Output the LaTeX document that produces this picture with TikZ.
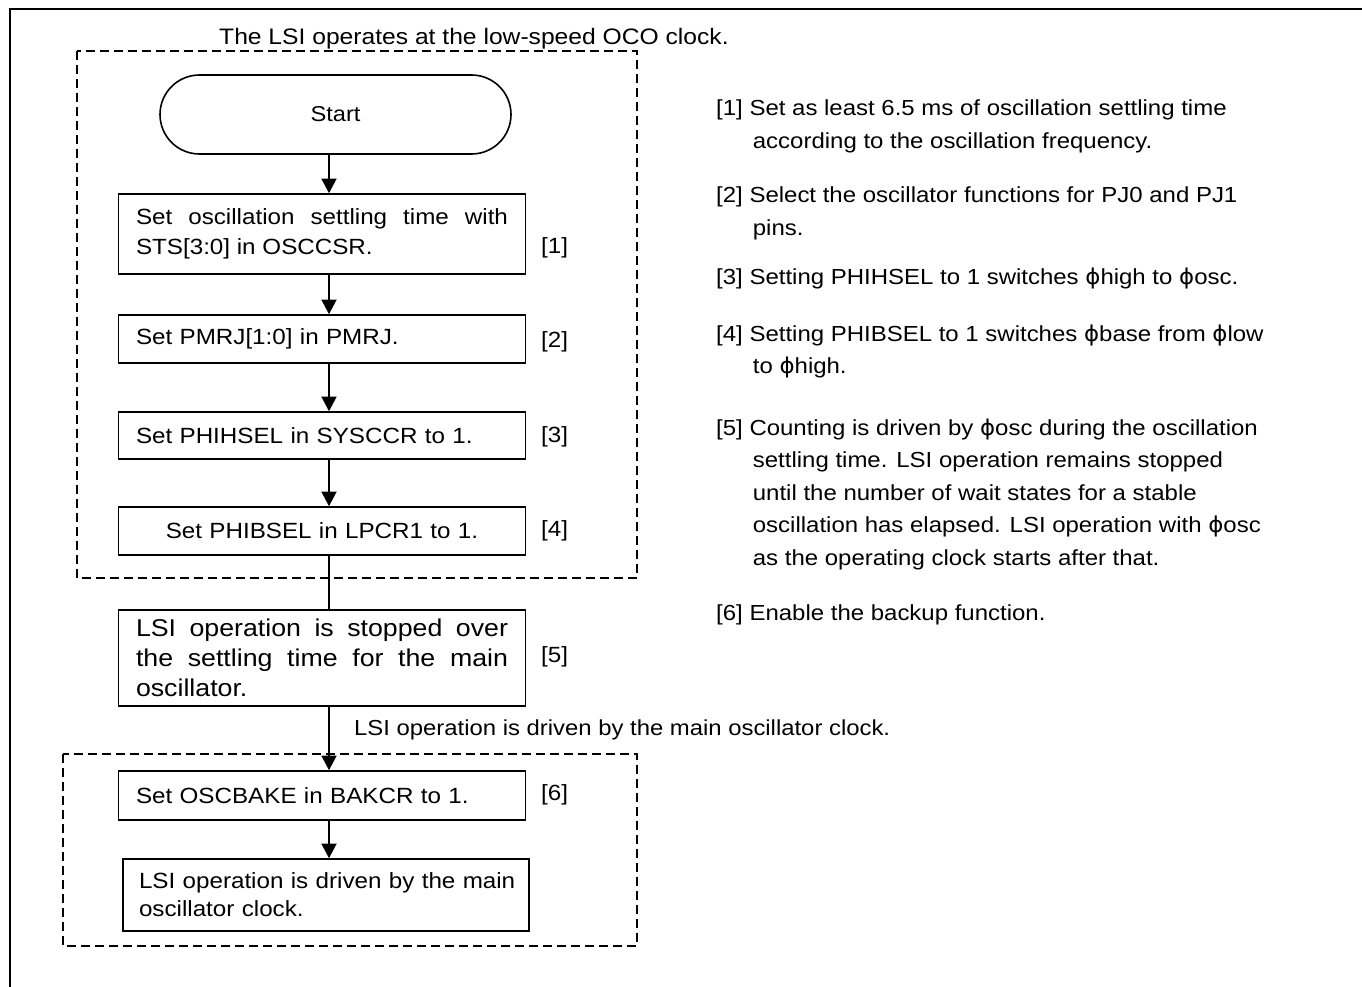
\documentclass[tikz,border=0pt]{standalone}
\usepackage{fontspec}
\setmainfont{Liberation Sans}[FakeStretch=1.1]
\newfontfamily\phifont{DejaVu Sans}[FakeStretch=1.05]
\usetikzlibrary{arrows.meta}
\newcommand{\ph}{{\phifont\char"03D5}}
\newcommand{\notetext}[1]{\parbox[t]{640pt}{\fontsize{21.8}{32.5}\selectfont\hangindent=36.7pt\hangafter=1 #1}}
\begin{document}
\begin{tikzpicture}[x=1pt,y=-1pt,
  box/.style={draw, line width=1.6pt, rectangle, inner sep=0pt, minimum width=407pt, font=\fontsize{22}{30}\selectfont},
  dbox/.style={draw, line width=1.4pt, dash pattern=on 9pt off 5pt},
  arr/.style={line width=1.4pt, -{Triangle[length=14.5pt,width=15pt]}},
  plain/.style={line width=1.4pt},
  lbl/.style={font=\fontsize{22}{25}\selectfont, inner sep=0pt},
  note/.style={inner sep=0pt, anchor=base west}]
\useasboundingbox (0,0) rectangle (1362,987);
\draw[line width=1.6pt] (10,987) -- (10,9) -- (1362,9);

% dashed groups
\draw[dbox] (77,51) rectangle (637,578);
\draw[dbox] (63,754) rectangle (637,946);

\node[lbl, anchor=base west, font=\fontsize{22.4}{25}\selectfont] (toplbl) at (219,45) {The LSI operates at the low-speed OCO clock.};

\node[draw, line width=1.6pt, rounded corners=39.5pt, minimum width=351pt, minimum height=79pt, font=\fontsize{21.5}{25}\selectfont] (start) at (335.5,114.5) {Start};

\node[box, minimum height=80pt, text width=372pt, align=justify] (b1) at (322,234) {Set oscillation settling time with\linebreak STS[3:0] in OSCCSR.};
\node[box, minimum height=48pt, text width=372pt, align=left] (b2) at (322,339) {Set PMRJ[1:0] in PMRJ.};
\node[box, minimum height=47pt, text width=372pt, align=left] (b3) at (322,435.5) {Set PHIHSEL in SYSCCR to 1.};
\node[box, minimum height=48pt, text width=372pt, align=center] (b4) at (322,531) {Set PHIBSEL in LPCR1 to 1.};
\node[box, minimum height=96pt, text width=372pt, align=justify, font=\fontsize{24.3}{30}\selectfont] (b5) at (322,658) {LSI operation is stopped over\linebreak the settling time for the main\linebreak oscillator.};
\node[box, minimum height=49pt, text width=372pt, align=left] (b6) at (322,795.5) {Set OSCBAKE in BAKCR to 1.};
\node[box, minimum width=406pt, minimum height=72pt, text width=374pt, align=left, font=\fontsize{22}{28}\selectfont] (b7) at (326,895) {\mbox{LSI operation is driven by the main}\\oscillator clock.};

\node[lbl, anchor=west] (l1) at (541,248) {[1]};
\node[lbl, anchor=west] (l2) at (541,342) {[2]};
\node[lbl, anchor=west] (l3) at (541,437) {[3]};
\node[lbl, anchor=west] (l4) at (541,531) {[4]};
\node[lbl, anchor=west] (l5) at (541,657) {[5]};
\node[lbl, anchor=west] (l6) at (541,795) {[6]};

\node[lbl, anchor=base west, font=\fontsize{21.7}{25}\selectfont] (midlbl) at (354,735) {LSI operation is driven by the main oscillator clock.};

\coordinate (ax) at (329,0);
\draw[arr] (start.south -| ax) -- (b1.north -| ax);
\draw[arr] (b1.south -| ax) -- (b2.north -| ax);
\draw[arr] (b2.south -| ax) -- (b3.north -| ax);
\draw[arr] (b3.south -| ax) -- (b4.north -| ax);
\draw[plain] (b4.south -| ax) -- (b5.north -| ax);
\draw[arr] (b5.south -| ax) -- (b6.north -| ax);
\draw[arr] (b6.south -| ax) -- (b7.north -| ax);

% notes
\node[note] (n1) at (716,116) {\notetext{[1] Set as least 6.5 ms of oscillation settling time\\according to the oscillation frequency.}};
\node[note] (n2) at (716,203) {\notetext{[2] Select the oscillator functions for PJ0 and PJ1\\pins.}};
\node[note] (n3) at (716,284) {\notetext{[3] Setting PHIHSEL to 1 switches \ph high to \ph osc.}};
\node[note] (n4) at (716,341) {\notetext{[4] Setting PHIBSEL to 1 switches \ph base from \ph low\\to \ph high.}};
\node[note] (n5) at (716,435) {\notetext{[5] Counting is driven by \ph osc during the oscillation\\settling time. LSI operation remains stopped\\until the number of wait states for a stable\\oscillation has elapsed. LSI operation with \ph osc\\as the operating clock starts after that.}};
\node[note] (n6) at (716,620) {\notetext{[6] Enable the backup function.}};
\end{tikzpicture}
\end{document}
